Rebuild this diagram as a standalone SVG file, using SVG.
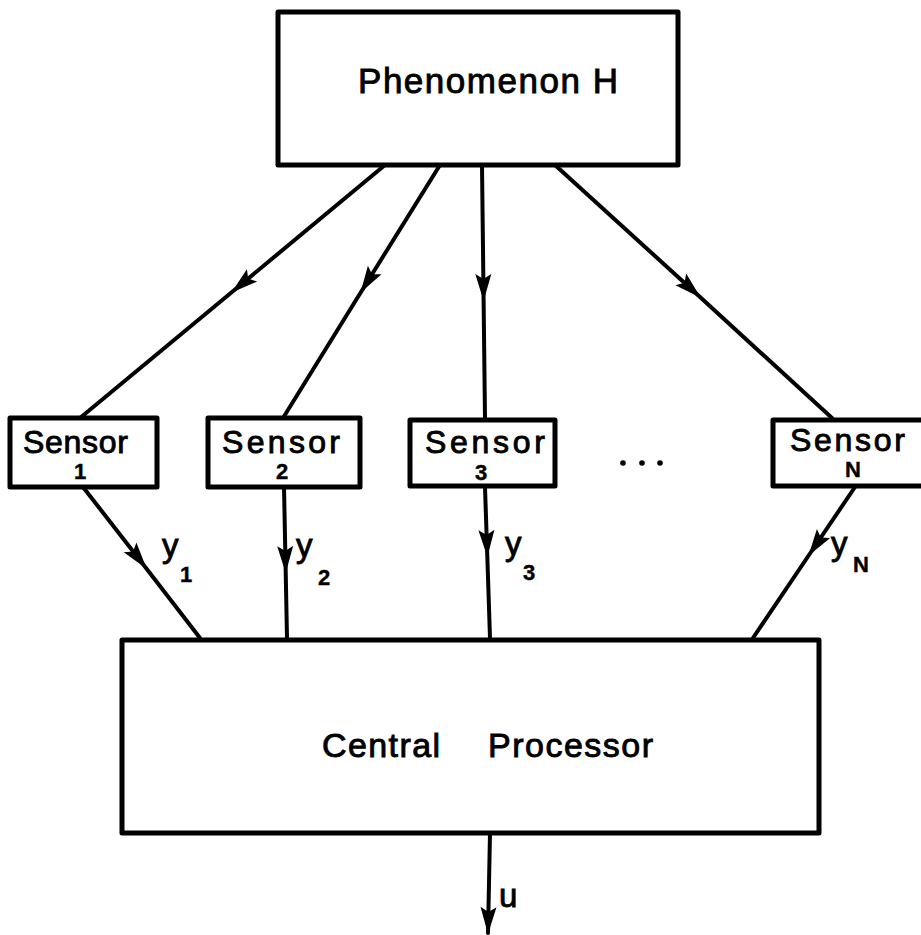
<svg xmlns="http://www.w3.org/2000/svg" width="921" height="935" viewBox="0 0 921 935">
  <style>
    .box { fill: #fff; stroke: #000; stroke-width: 5; stroke-linejoin: round; }
    .wire { fill: none; stroke: #000; stroke-width: 4; stroke-linecap: round; }
    .lbl { font-family: "Liberation Sans", Arial, sans-serif; fill: #000; stroke: #000; stroke-width: 0.9; }
    .big { font-size: 35px; }
    .name { font-size: 32px; }
    .idx { font-size: 22px; font-weight: bold; stroke-width: 0.4; }
    .sig { font-size: 33px; }
    .sub { font-size: 22px; font-weight: bold; stroke-width: 0.4; }
  </style>
  <defs>
    <marker id="arrow" markerUnits="userSpaceOnUse" markerWidth="32" markerHeight="20" viewBox="-28 -10 30 20" refX="0" refY="0" orient="auto">
      <path d="M1,0 L-26,-8 L-21,0 L-26,8 Z" fill="#000"/>
    </marker>
  </defs>

  <!-- signal paths; the middle vertex of each path carries the arrowhead -->
  <g id="connectors">
    <path class="wire" d="M385,165 L232,292 L80,418" marker-mid="url(#arrow)"/>
    <path class="wire" d="M440,165 L361,292 L283,418" marker-mid="url(#arrow)"/>
    <path class="wire" d="M482,165 L483.6,300 L485,418" marker-mid="url(#arrow)"/>
    <path class="wire" d="M555,165 L700,297 L832,418" marker-mid="url(#arrow)"/>

    <path class="wire" d="M83,487 L146,568 L200,638" marker-mid="url(#arrow)"/>
    <path class="wire" d="M284,487 L285.7,572 L287,638" marker-mid="url(#arrow)"/>
    <path class="wire" d="M485,487 L487.3,556 L490,638" marker-mid="url(#arrow)"/>
    <path class="wire" d="M855,487 L809,555 L753,638" marker-mid="url(#arrow)"/>

    <path class="wire" d="M490,833 L488,933" marker-end="url(#arrow)"/>

    <g class="lbl">
      <text class="sig" x="162" y="557">y</text><text class="sub" x="180" y="582">1</text>
      <text class="sig" x="296" y="557">y</text><text class="sub" x="318" y="585">2</text>
      <text class="sig" x="505" y="555">y</text><text class="sub" x="523" y="580">3</text>
      <text class="sig" x="831" y="555">y</text><text class="sub" x="853" y="572">N</text>
      <text class="sig" x="499" y="907">u</text>
    </g>
  </g>

  <g id="phenomenon">
    <rect class="box" x="278" y="12" width="400" height="153"/>
    <text class="lbl big" x="358" y="93" textLength="260" lengthAdjust="spacing">Phenomenon H</text>
  </g>

  <g id="sensor-1">
    <rect class="box" x="10" y="418" width="147" height="69"/>
    <text class="lbl name" x="23" y="453" textLength="105" lengthAdjust="spacing">Sensor</text>
    <text class="lbl idx" x="80" y="479" text-anchor="middle">1</text>
  </g>

  <g id="sensor-2">
    <rect class="box" x="208" y="418" width="152" height="69"/>
    <text class="lbl name" x="222" y="453" textLength="118" lengthAdjust="spacing">Sensor</text>
    <text class="lbl idx" x="282" y="479" text-anchor="middle">2</text>
  </g>

  <g id="sensor-3">
    <rect class="box" x="410" y="420" width="145" height="66"/>
    <text class="lbl name" x="425" y="453" textLength="120" lengthAdjust="spacing">Sensor</text>
    <text class="lbl idx" x="481" y="480" text-anchor="middle">3</text>
  </g>

  <g id="ellipsis">
    <circle cx="623" cy="463" r="2.8" fill="#000"/>
    <circle cx="642" cy="463" r="2.8" fill="#000"/>
    <circle cx="660" cy="463" r="2.8" fill="#000"/>
  </g>

  <g id="sensor-n">
    <rect class="box" x="773" y="420" width="160" height="66"/>
    <text class="lbl name" x="790" y="451" textLength="115" lengthAdjust="spacing">Sensor</text>
    <text class="lbl idx" x="853" y="477" text-anchor="middle" font-size="17">N</text>
  </g>

  <g id="central-processor">
    <rect class="box" x="122" y="640" width="697" height="193"/>
    <text class="lbl" x="322" y="757" font-size="34" textLength="118" lengthAdjust="spacing">Central</text>
    <text class="lbl" x="488" y="757" font-size="34" textLength="165" lengthAdjust="spacing">Processor</text>
  </g>
</svg>
